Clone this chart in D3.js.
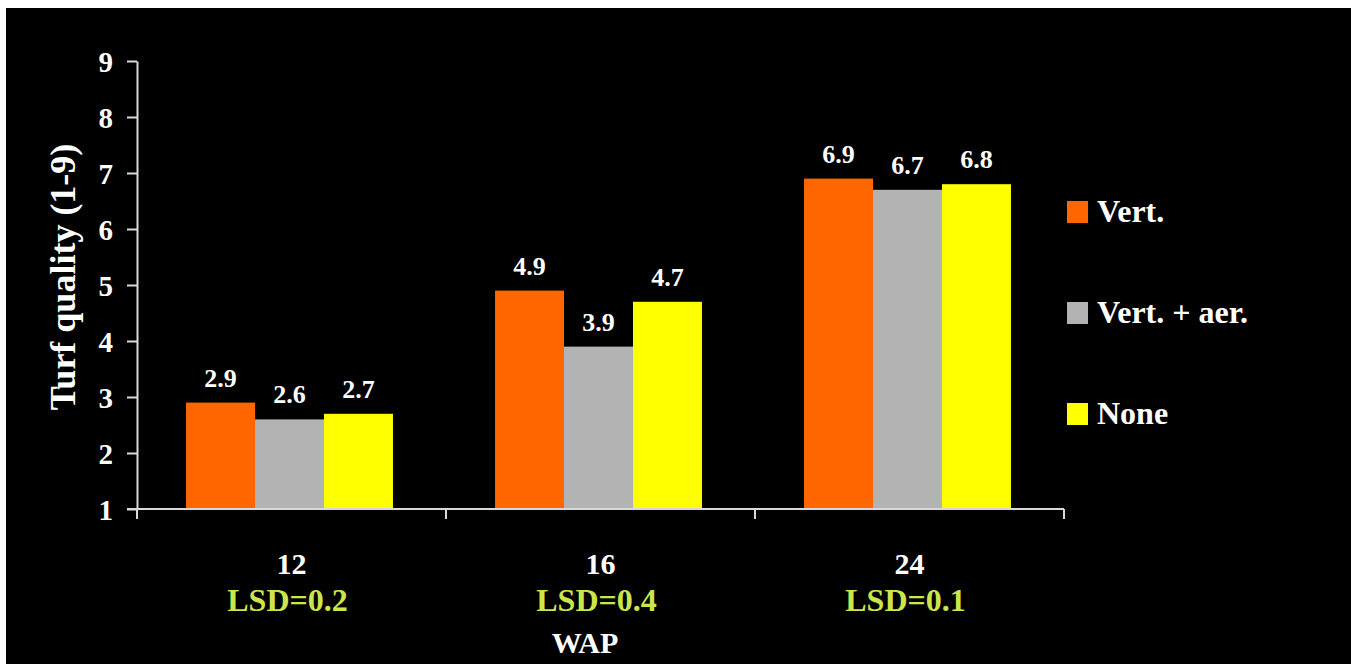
<!DOCTYPE html>
<html>
<head>
<meta charset="utf-8">
<script src="https://cdn.jsdelivr.net/npm/d3@7"></script>
<style>
  html, body { margin: 0; padding: 0; background: #ffffff; }
  svg { display: block; }
  text { font-family: "Liberation Serif", "Times New Roman", serif; font-weight: bold; }
</style>
</head>
<body>
<svg id="chart" width="1351" height="664"></svg>
<script>
const categories = ["12", "16", "24"];
const lsdLabels = ["LSD=0.2", "LSD=0.4", "LSD=0.1"];
const seriesNames = ["Vert.", "Vert. + aer.", "None"];
const vertValues = [2.9, 4.9, 6.9];
const vertAerValues = [2.6, 3.9, 6.7];
const noneValues = [2.7, 4.7, 6.8];
const yTicks = [1, 2, 3, 4, 5, 6, 7, 8, 9];
const colors = ["#ff6600", "#b3b3b3", "#ffff00"];

const seriesValues = [vertValues, vertAerValues, noneValues];
const data = categories.map((c, i) => ({
  cat: c,
  lsd: lsdLabels[i],
  vals: seriesNames.map((s, j) => ({ series: s, value: seriesValues[j][i], color: colors[j] }))
}));

const svg = d3.select("#chart");
svg.append("rect").attr("x", 6).attr("y", 8).attr("width", 1345).attr("height", 656).attr("fill", "#000000");

const x0 = d3.scaleBand().domain(categories).range([137, 1064]).padding(0);
const x1 = d3.scaleBand().domain(seriesNames).range([0, x0.bandwidth()]).paddingInner(0).paddingOuter(0.74);
const y = d3.scaleLinear().domain([1, 9]).range([509, 61]);

const axisColor = "#d9d9d9";

// Bars
const g = svg.append("g");
const groups = g.selectAll("g.grp").data(data).join("g")
  .attr("class", "grp")
  .attr("transform", d => `translate(${x0(d.cat) - 2},0)`);
groups.selectAll("rect").data(d => d.vals).join("rect")
  .attr("x", d => x1(d.series))
  .attr("width", x1.bandwidth())
  .attr("y", d => y(d.value))
  .attr("height", d => y(1) - y(d.value))
  .attr("fill", d => d.color);
groups.selectAll("text.val").data(d => d.vals).join("text")
  .attr("class", "val")
  .attr("x", d => x1(d.series) + x1.bandwidth() / 2)
  .attr("y", d => y(d.value) - 16)
  .attr("text-anchor", "middle")
  .attr("fill", "#ffffff")
  .attr("font-size", 26)
  .text(d => d.value.toFixed(1));

// Y axis
const yAxis = d3.axisLeft(y).tickValues(yTicks).tickFormat(d3.format("d")).tickSize(10).tickSizeOuter(0).tickPadding(14);
const yg = svg.append("g").attr("transform", "translate(137,0)").call(yAxis);
yg.select(".domain").attr("stroke", axisColor).attr("stroke-width", 2);
yg.selectAll(".tick line").attr("stroke", axisColor).attr("stroke-width", 2);
yg.selectAll(".tick text").attr("fill", "#ffffff").attr("font-size", 29)
  .attr("font-family", "Liberation Serif, serif").attr("font-weight", "bold").attr("dy", "0.35em");

// X axis line with group boundary ticks
const boundaries = [x0.range()[0]].concat(categories.map(c => x0(c) + x0.bandwidth()));
svg.append("line").attr("x1", 127).attr("x2", x0.range()[1]).attr("y1", y(1)).attr("y2", y(1))
  .attr("stroke", axisColor).attr("stroke-width", 2);
svg.selectAll("line.xt").data(boundaries).join("line").attr("class", "xt")
  .attr("x1", d => d).attr("x2", d => d).attr("y1", y(1)).attr("y2", y(1) + 10)
  .attr("stroke", axisColor).attr("stroke-width", 2);

// Category labels
svg.selectAll("text.cat").data(data).join("text").attr("class", "cat")
  .attr("x", d => x0(d.cat) + x0.bandwidth() / 2)
  .attr("y", 574)
  .attr("text-anchor", "middle")
  .attr("fill", "#ffffff")
  .attr("font-size", 30)
  .text(d => d.cat);
svg.selectAll("text.lsd").data(data).join("text").attr("class", "lsd")
  .attr("x", d => x0(d.cat) + x0.bandwidth() / 2 - 4)
  .attr("y", 611)
  .attr("text-anchor", "middle")
  .attr("fill", "#cbe64b")
  .attr("font-size", 32)
  .text(d => d.lsd);

// X axis title
svg.append("text").attr("x", 585).attr("y", 653).attr("text-anchor", "middle")
  .attr("fill", "#ffffff").attr("font-size", 30).text("WAP");

// Y axis title
svg.append("text").attr("transform", "translate(75,277) rotate(-90)")
  .attr("text-anchor", "middle").attr("fill", "#ffffff").attr("font-size", 36)
  .text("Turf quality (1-9)");

// Legend
const legend = svg.append("g").selectAll("g").data(seriesNames).join("g")
  .attr("transform", (d, i) => `translate(1067,${201 + i * 101})`);
legend.append("rect").attr("width", 21).attr("height", 22).attr("fill", (d, i) => colors[i]);
legend.append("text").attr("x", 30).attr("y", 21).attr("fill", "#ffffff").attr("font-size", 32).text(d => d);
</script>
</body>
</html>
